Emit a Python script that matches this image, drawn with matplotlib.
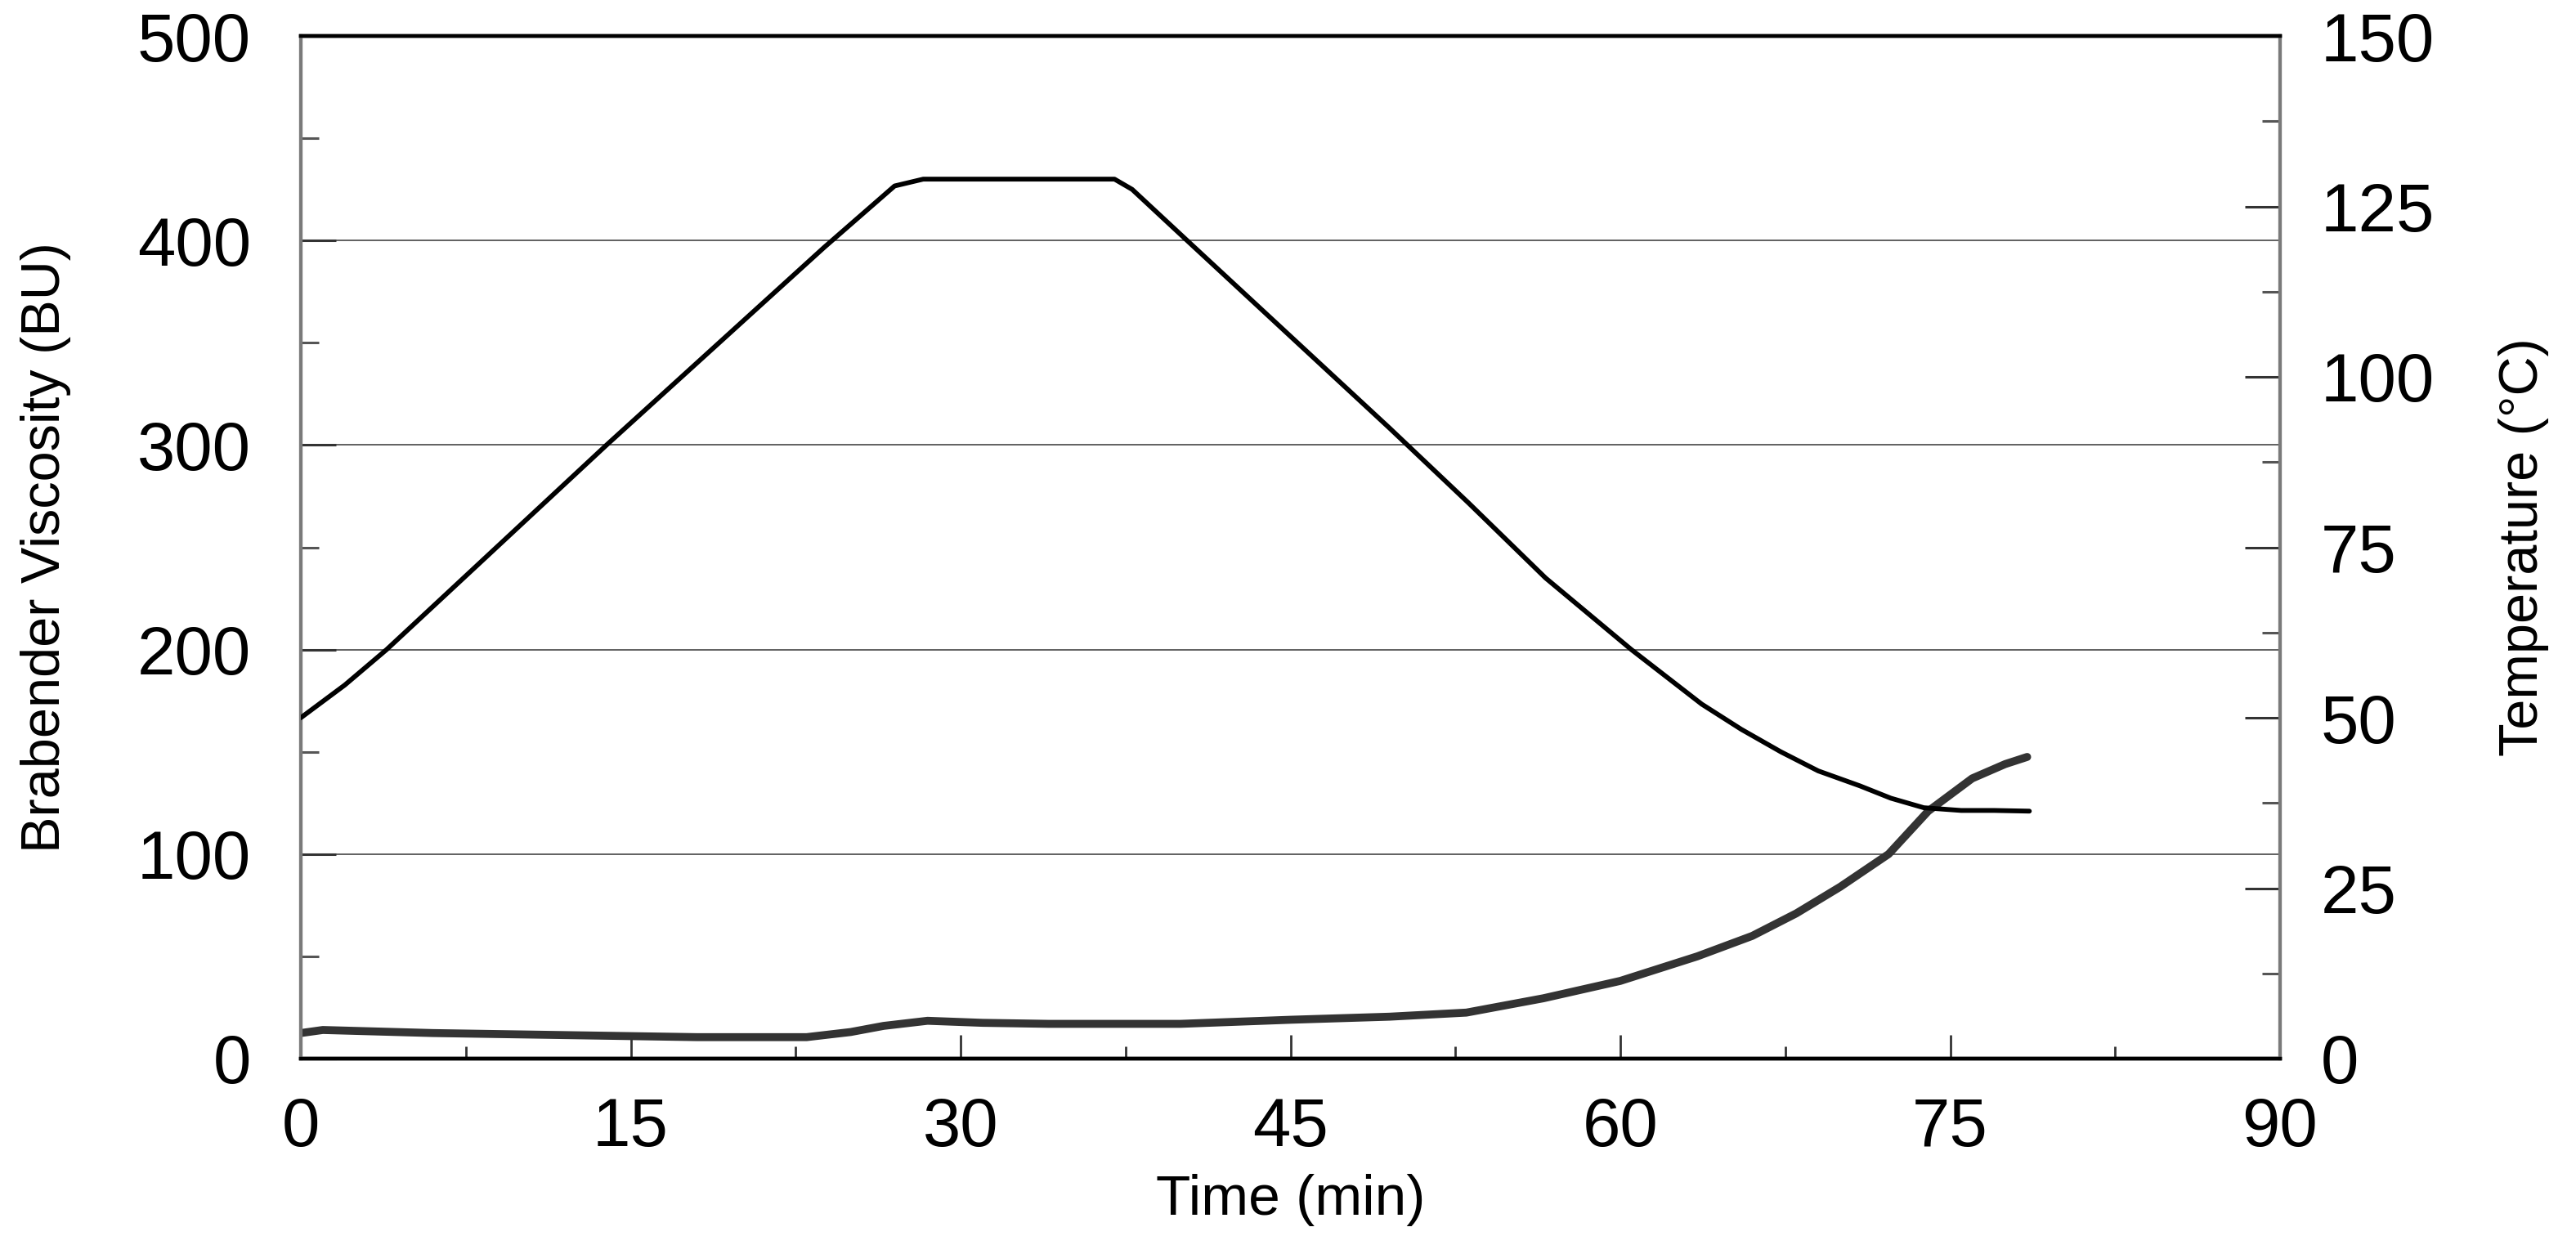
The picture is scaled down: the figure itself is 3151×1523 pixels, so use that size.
import numpy as np
import matplotlib
matplotlib.use("Agg")
import matplotlib.pyplot as plt
from matplotlib.ticker import MultipleLocator

plt.rcParams['font.family'] = ['Liberation Sans', 'DejaVu Sans']

# temperature profile (min, deg C)
temp_time = [0, 2.0, 3.9, 13.9, 23.8, 27.0, 28.3, 37.0, 37.8, 40.3, 49.5, 53.1, 56.6,
             60.5, 63.7, 65.5, 67.3, 69.0, 70.9, 72.3, 73.8, 75.5, 77.0, 78.6]
temp_vals = [50, 54.8, 60, 90, 119, 128, 129, 129, 127.5, 120, 92.5, 81.5, 70.5,
             60, 52, 48.3, 45, 42.2, 40, 38.2, 36.8, 36.4, 36.4, 36.3]

# Brabender viscosity (min, BU)
visc_time = [0, 1, 6, 12, 18, 23, 25, 26.5, 28.5, 31, 34, 40, 45, 49.5, 53,
             56.5, 60, 63.5, 66, 68, 70, 72.2, 74, 76, 77.5, 78.5]
visc_vals = [12.5, 14, 12.5, 11.5, 10.5, 10.5, 13, 16, 18.5, 17.5, 17, 17, 19,
             20.5, 22.5, 29.5, 38, 50, 60, 71, 84, 100, 121, 137, 144, 147.5]

x_ticks = [0, 15, 30, 45, 60, 75, 90]
left_ticks = [0, 100, 200, 300, 400, 500]
right_ticks = [0, 25, 50, 75, 100, 125, 150]

fig = plt.figure(figsize=(31.51, 15.23), dpi=100)
ax = fig.add_axes([368/3151, 1 - 1295/1523, (2789 - 368)/3151, (1295 - 44)/1523])
ax2 = ax.twinx()

ax.plot(visc_time, visc_vals, color='#333333', lw=7, solid_capstyle='round',
        solid_joinstyle='round', zorder=3)
ax2.plot(temp_time, temp_vals, color='black', lw=4.2, solid_capstyle='round',
         solid_joinstyle='round', zorder=3)

ax.set_xlim(0, 90)
ax.set_ylim(0, 500)
ax2.set_ylim(0, 150)

ax.set_xticks(x_ticks)
ax.xaxis.set_minor_locator(MultipleLocator(7.5))
ax.set_yticks(left_ticks)
ax.yaxis.set_minor_locator(MultipleLocator(50))
ax2.set_yticks(right_ticks)
ax2.yaxis.set_minor_locator(MultipleLocator(12.5))

ax.yaxis.grid(True, color='#606060', lw=1.4)
ax.set_axisbelow(True)

ax.tick_params(axis='x', which='major', direction='in', length=21, width=2, color='#333333',
               labelsize=60, pad=33)
ax.tick_params(axis='x', which='minor', direction='in', length=11, width=2, color='#333333')
ax.tick_params(axis='y', which='major', direction='in', length=31, width=2.2, color='#333333',
               labelsize=60, pad=44)
ax.tick_params(axis='y', which='minor', direction='in', length=16, width=2.2, color='#555555')
ax2.tick_params(axis='y', which='major', direction='in', length=31, width=2.2, color='#333333',
                labelsize=60, pad=36)
ax2.tick_params(axis='y', which='minor', direction='in', length=16, width=2.2, color='#555555')

for a in (ax, ax2):
    a.spines['top'].set_color('black')
    a.spines['bottom'].set_color('black')
    a.spines['top'].set_linewidth(3.2)
    a.spines['bottom'].set_linewidth(3.2)
    a.spines['left'].set_color('#7a7a7a')
    a.spines['right'].set_color('#7a7a7a')
    a.spines['left'].set_linewidth(3)
    a.spines['right'].set_linewidth(3)

ax.set_xlabel('Time (min)', fontsize=50, labelpad=12)
ax.set_ylabel('Brabender Viscosity (BU)', fontsize=48, labelpad=58)
ax2.set_ylabel('Temperature (°C)', fontsize=48, labelpad=56)

fig.savefig('out.png', dpi=100)
